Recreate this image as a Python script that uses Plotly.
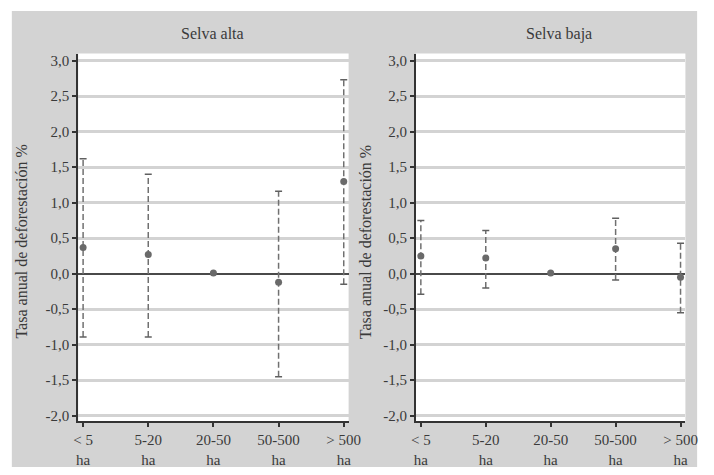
import plotly.graph_objects as go

categories = ["< 5<br>ha", "5-20<br>ha", "20-50<br>ha", "50-500<br>ha", "> 500<br>ha"]
panel_titles = ["Selva alta", "Selva baja"]
y_title = "Tasa anual de deforestación %"

alta_mean = [0.37, 0.27, 0.01, -0.12, 1.30]
alta_upper = [1.62, 1.40, None, 1.16, 2.73]
alta_lower = [-0.89, -0.89, None, -1.45, -0.15]

baja_mean = [0.25, 0.22, 0.01, 0.35, -0.05]
baja_upper = [0.75, 0.61, None, 0.78, 0.43]
baja_lower = [-0.29, -0.20, None, -0.09, -0.55]

y_tickvals = [3.0, 2.5, 2.0, 1.5, 1.0, 0.5, 0.0, -0.5, -1.0, -1.5, -2.0]
y_ticktext = ["3,0", "2,5", "2,0", "1,5", "1,0", "0,5", "0,0", "-0,5", "-1,0", "-1,5", "-2,0"]

W, H = 714, 475
FONT = "Liberation Serif"
TXT = "#3a3a3a"
BG = "#d3d3d3"

fig = go.Figure()

panels = [
    (alta_mean, alta_upper, alta_lower, "x", "y"),
    (baja_mean, baja_upper, baja_lower, "x2", "y2"),
]
xs = list(range(len(categories)))

for mean, up, lo, xa, ya in panels:
    lx, ly = [], []
    cx, cy = [], []
    for i, (u, l) in enumerate(zip(up, lo)):
        if u is None or l is None:
            continue
        lx += [i, i, None]
        ly += [l, u, None]
        cx += [i, i]
        cy += [l, u]
    fig.add_trace(go.Scatter(x=lx, y=ly, mode="lines", xaxis=xa, yaxis=ya,
                             line=dict(color="#707070", width=1.5, dash="6px,3px"),
                             hoverinfo="skip", showlegend=False))
    fig.add_trace(go.Scatter(x=cx, y=cy, mode="markers", xaxis=xa, yaxis=ya,
                             marker=dict(symbol="line-ew", size=5,
                                         line=dict(color="#606060", width=1.5)),
                             hoverinfo="skip", showlegend=False))
    fig.add_trace(go.Scatter(x=xs, y=mean, mode="markers", xaxis=xa, yaxis=ya,
                             marker=dict(color="#6a6a6a", size=7),
                             showlegend=False))

def px_x(p):
    return p / W

def px_y(p):
    return (H - p) / H

x_common = dict(
    range=[-0.075, 4.075], tickmode="array", tickvals=xs, ticktext=categories,
    showgrid=False, zeroline=False, showline=True, linecolor="#333333", linewidth=2,
    ticks="outside", ticklen=4, tickwidth=1.5, tickcolor="#333333",
    tickfont=dict(family=FONT, size=15, color=TXT), fixedrange=True,
)
y_common = dict(
    range=[-2.08, 3.1], tickmode="array", tickvals=y_tickvals, ticktext=y_ticktext,
    showgrid=True, gridcolor=BG, gridwidth=2.5,
    zeroline=True, zerolinecolor="#4a4a4a", zerolinewidth=1.5,
    showline=True, linecolor="#333333", linewidth=2,
    ticks="outside", ticklen=4, tickwidth=1.5, tickcolor="#333333",
    tickfont=dict(family=FONT, size=15, color=TXT), fixedrange=True,
)

ydom = [px_y(424), px_y(53)]
shapes = [dict(type="rect", xref="paper", yref="paper",
               x0=px_x(7), x1=px_x(709), y0=px_y(470), y1=px_y(10),
               fillcolor=BG, line=dict(width=0), layer="below")]
for xr, yr in [("x", "y"), ("x2", "y2")]:
    shapes.append(dict(type="rect", xref=xr + " domain", yref=yr + " domain",
                       x0=0, x1=1, y0=0, y1=1, fillcolor="white",
                       line=dict(width=0), layer="below"))

fig.update_layout(
    width=W, height=H,
    margin=dict(l=0, r=0, t=0, b=0),
    paper_bgcolor="white", plot_bgcolor="white",
    xaxis=dict(domain=[px_x(75), px_x(352)], anchor="y", **x_common),
    yaxis=dict(domain=ydom, anchor="x", **y_common),
    xaxis2=dict(domain=[px_x(421), px_x(697)], anchor="y2", **x_common),
    yaxis2=dict(domain=ydom, anchor="x2", **y_common),
    font=dict(family=FONT, color=TXT),
    shapes=shapes,
)

annotations = []
for title, cx in zip(panel_titles, [213, 568]):
    annotations.append(dict(text=title, x=px_x(cx), y=px_y(33), xref="paper", yref="paper",
                            showarrow=False, font=dict(family=FONT, size=16, color=TXT),
                            xanchor="center", yanchor="middle"))
for cx in [17, 370]:
    annotations.append(dict(text=y_title, x=px_x(cx), y=px_y(243), xref="paper", yref="paper",
                            showarrow=False, textangle=-90,
                            font=dict(family=FONT, size=16, color=TXT),
                            xanchor="center", yanchor="middle"))
fig.update_layout(annotations=annotations)

fig.write_html("out.html", config={"displayModeBar": False},
               post_script="document.body.style.margin='0px';")
